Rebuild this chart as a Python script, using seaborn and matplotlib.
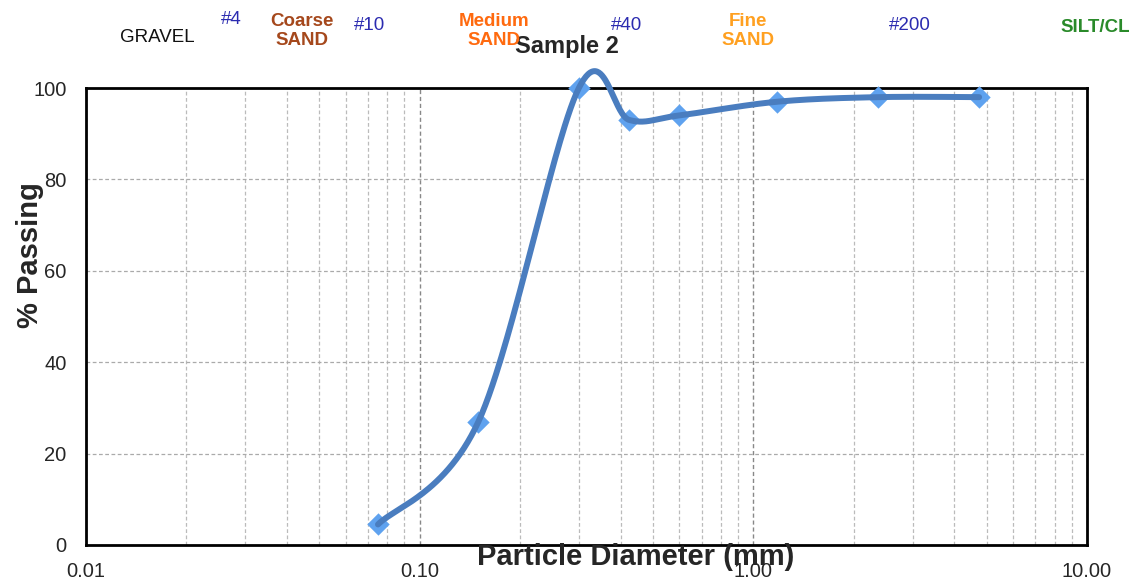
import numpy as np
import pandas as pd
import matplotlib
matplotlib.use("Agg")
import matplotlib.pyplot as plt
from matplotlib.ticker import FixedLocator, FixedFormatter, MultipleLocator, LogLocator, NullFormatter
import seaborn as sns

# ---- data ----
diameter_mm = [0.075, 0.15, 0.30, 0.425, 0.60, 1.18, 2.36, 4.75]
pct_passing = [4.5, 27.0, 100.0, 93.0, 94.0, 97.0, 98.0, 98.0]
x_ticks = [0.01, 0.1, 1.0, 10.0]
x_tick_labels = ["0.01", "0.10", "1.00", "10.00"]
y_ticks = [0, 20, 40, 60, 80, 100]
top_labels = ["GRAVEL", "#4", "Coarse\nSAND", "#10", "Medium\nSAND", "#40", "Fine\nSAND", "#200", "SILT/CL"]

# ---- style ----
sns.set_style("white")
plt.rcParams["font.family"] = ["Liberation Sans", "DejaVu Sans"]

fig = plt.figure(figsize=(11.35, 5.81), dpi=100)
W, H = 1135, 581
ax = fig.add_axes([86 / W, 1 - 545 / H, (1087 - 86) / W, (545 - 88) / H])
ax.set_xscale("log")
ax.set_xlim(0.01, 10)
ax.set_ylim(0, 100)

# grid
ax.xaxis.set_major_locator(FixedLocator(x_ticks))
ax.xaxis.set_major_formatter(FixedFormatter(x_tick_labels))
ax.xaxis.set_minor_locator(LogLocator(base=10, subs=np.arange(2, 10)))
ax.xaxis.set_minor_formatter(NullFormatter())
ax.yaxis.set_major_locator(FixedLocator(y_ticks))
ax.yaxis.set_minor_locator(MultipleLocator(4))
ax.grid(True, which="major", axis="x", color="#888888", linestyle=(0, (3, 2)), linewidth=1.0)
ax.grid(True, which="minor", axis="x", color="#bbbbbb", linestyle=(0, (3, 2)), linewidth=0.9)
ax.grid(True, which="major", axis="y", color="#aaaaaa", linestyle=(0, (3, 2)), linewidth=0.9)
ax.set_axisbelow(True)

for s in ax.spines.values():
    s.set_color("black")
    s.set_linewidth(2.0)

ax.tick_params(axis="x", which="major", direction="out", length=8, width=1, color="#888888",
               labelsize=14.5, pad=4)
ax.tick_params(axis="x", which="minor", direction="out", length=5, width=0.8, color="#bbbbbb")
ax.tick_params(axis="y", which="major", direction="out", length=6, width=1, color="#888888",
               labelsize=14.5, pad=8)
ax.tick_params(axis="y", which="minor", direction="out", length=4, width=0.8, color="#888888")

# smoothed curve (Excel-like Catmull-Rom/Bezier in display space)
fig.canvas.draw()
pts = ax.transData.transform(np.column_stack([diameter_mm, pct_passing]))
n = len(pts)
curve = []
for i in range(n - 1):
    p0 = pts[max(i - 1, 0)]
    p1 = pts[i]
    p2 = pts[i + 1]
    p3 = pts[min(i + 2, n - 1)]
    c1 = p1 + (p2 - p0) / 6.0
    c2 = p2 - (p3 - p1) / 6.0
    t = np.linspace(0, 1, 60)[:, None]
    seg = (1 - t) ** 3 * p1 + 3 * (1 - t) ** 2 * t * c1 + 3 * (1 - t) * t ** 2 * c2 + t ** 3 * p2
    curve.append(seg if i == 0 else seg[1:])
curve = np.vstack(curve)
curve_data = ax.transData.inverted().transform(curve)
df_curve = pd.DataFrame({"d": curve_data[:, 0], "p": curve_data[:, 1]})
df_pts = pd.DataFrame({"d": diameter_mm, "p": pct_passing})

sns.scatterplot(data=df_pts, x="d", y="p", marker="D", s=130, color="#5fa2ef",
                edgecolor="#5fa2ef", linewidth=0, ax=ax, zorder=3, clip_on=False)
sns.lineplot(data=df_curve, x="d", y="p", sort=False, estimator=None, color="#4a7dbf",
             linewidth=4.3, ax=ax, zorder=4, clip_on=False)
ax.set_xlabel("")
ax.set_ylabel("")
ax.set_xlim(0.01, 10)
ax.set_ylim(0, 100)

# labels
fig.text(636 / W, 1 - 557 / H, "Particle Diameter (mm)", ha="center", va="center",
         fontsize=21, fontweight="bold")
fig.text(30 / W, 1 - 255 / H, "% Passing", ha="center", va="center", rotation=90,
         fontsize=21, fontweight="bold")
fig.text(567 / W, 1 - 47 / H, "Sample 2", ha="center", va="center", fontsize=17,
         fontweight="bold")

top_pos = [(157, 37), (231, 20), (302, 31), (370, 25), (494, 31), (627, 25), (748, 31), (910, 25), (1095, 27)]
top_colors = ["#111111", "#2b2bb0", "#a5481c", "#2b2bb0", "#ff6a0f", "#2b2bb0", "#ffa020", "#2b2bb0", "#2a8a2a"]
top_weights = ["normal", "normal", "bold", "normal", "bold", "normal", "bold", "normal", "bold"]
for lab, (px, py), c, w in zip(top_labels, top_pos, top_colors, top_weights):
    fig.text(px / W, 1 - py / H, lab, ha="center", va="center", color=c, fontsize=13.5,
             fontweight=w, linespacing=1.1)

fig.savefig("out.png", dpi=100)
